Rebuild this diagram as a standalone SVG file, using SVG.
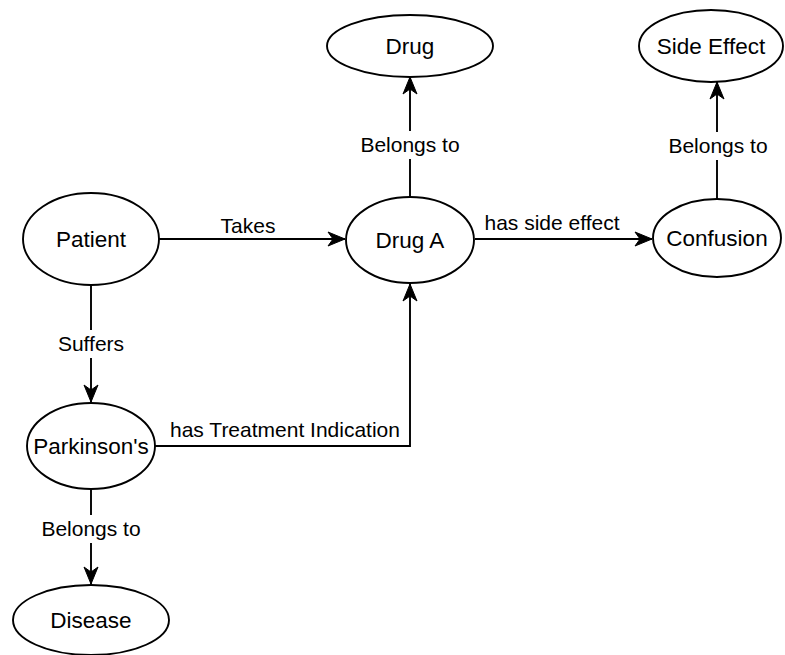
<svg xmlns="http://www.w3.org/2000/svg" width="785" height="655" viewBox="0 0 785 655">
  <style>
    .node ellipse { fill: #ffffff; stroke: #000000; stroke-width: 1.9; }
    .node text { font-family: "Liberation Sans", Arial, sans-serif; font-size: 22.5px; fill: #000000; text-anchor: middle; }
    .edge { fill: none; stroke: #000000; stroke-width: 1.9; marker-end: url(#arrow); }
    .label { font-family: "Liberation Sans", Arial, sans-serif; font-size: 21px; fill: #000000; text-anchor: middle; }
    .label-bg { fill: #ffffff; }
  </style>
  <defs>
    <marker id="arrow" markerUnits="userSpaceOnUse" markerWidth="20" markerHeight="18" viewBox="-18 -9 19 18" refX="0" refY="0" orient="auto">
      <path d="M -17 -7 L 0 0 L -17 7 L -12 0 Z" fill="#000000" stroke="#000000" stroke-width="1"/>
    </marker>
  </defs>
  <rect width="785" height="655" fill="#ffffff"/>

  <!-- connectors -->
  <g id="connectors">
    <path class="edge" d="M 159 239 L 345 239"/>
    <path class="edge" d="M 475 239 L 652 239"/>
    <path class="edge" d="M 410 197 L 410 77"/>
    <path class="edge" d="M 717 199 L 717 82"/>
    <path class="edge" d="M 91 285 L 91 402"/>
    <path class="edge" d="M 155 446 L 410 446 L 410 284"/>
    <path class="edge" d="M 91 489 L 91 584"/>

    <text class="label" x="248" y="233">Takes</text>
    <text class="label" x="552" y="230">has side effect</text>
    <rect class="label-bg" x="358" y="131" width="104" height="28"/>
    <text class="label" x="410" y="152">Belongs to</text>
    <rect class="label-bg" x="666" y="132" width="104" height="28"/>
    <text class="label" x="718" y="153">Belongs to</text>
    <rect class="label-bg" x="52" y="330" width="78" height="28"/>
    <text class="label" x="91" y="351">Suffers</text>
    <text class="label" x="285" y="437">has Treatment Indication</text>
    <rect class="label-bg" x="39" y="515" width="104" height="28"/>
    <text class="label" x="91" y="536">Belongs to</text>
  </g>

  <!-- nodes -->
  <g id="patient" class="node">
    <ellipse cx="91" cy="239" rx="68" ry="46"/>
    <text x="91" y="247">Patient</text>
  </g>
  <g id="drug-a" class="node">
    <ellipse cx="410" cy="240" rx="64" ry="43"/>
    <text x="410" y="248">Drug A</text>
  </g>
  <g id="drug" class="node">
    <ellipse cx="410" cy="46" rx="83" ry="31"/>
    <text x="410" y="54">Drug</text>
  </g>
  <g id="side-effect" class="node">
    <ellipse cx="711" cy="46" rx="72" ry="36"/>
    <text x="711" y="54">Side Effect</text>
  </g>
  <g id="confusion" class="node">
    <ellipse cx="717" cy="238" rx="64" ry="39"/>
    <text x="717" y="246">Confusion</text>
  </g>
  <g id="parkinsons" class="node">
    <ellipse cx="91" cy="446" rx="64" ry="43"/>
    <text x="91" y="454">Parkinson's</text>
  </g>
  <g id="disease" class="node">
    <ellipse cx="91" cy="620" rx="78" ry="35"/>
    <text x="91" y="628">Disease</text>
  </g>
</svg>
